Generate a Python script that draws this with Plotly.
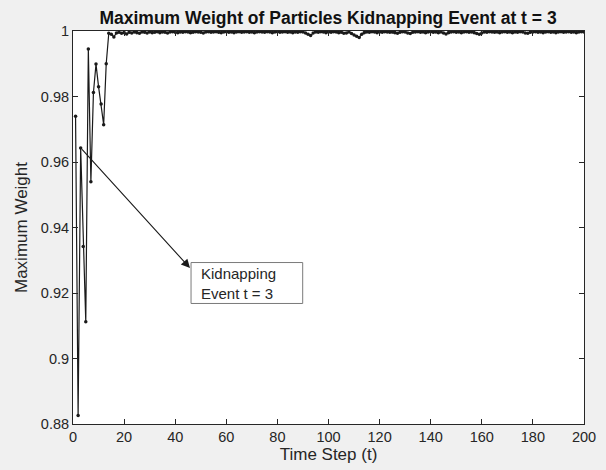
import plotly.graph_objects as go

# ---- data ----
time_steps = list(range(1, 201))
early_weights = [0.9740, 0.8826, 0.9643, 0.9342, 0.9112, 0.9945, 0.9540,
                 0.9812, 0.9899, 0.9830, 0.9777, 0.9714, 0.9900, 0.9993]
late_weights = [
    0.9990, 0.9982, 0.9994, 0.9996, 0.9993, 0.9995, 0.9991, 0.9996, 0.9994, 0.9997,
    0.9995, 0.9993, 0.9997, 0.9996, 0.9994, 0.9997, 0.9995, 0.9996, 0.9998, 0.9995,
    0.9997, 0.9996, 0.9994, 0.9997, 0.9998, 0.9996, 0.9995, 0.9997, 0.9996, 0.9998,
    0.9997, 0.9995, 0.9996, 0.9998, 0.9997, 0.9996, 0.9994, 0.9997, 0.9998, 0.9996,
    0.9997, 0.9998, 0.9996, 0.9995, 0.9997, 0.9998, 0.9996, 0.9997, 0.9995, 0.9997,
    0.9998, 0.9996, 0.9997, 0.9998, 0.9996, 0.9997, 0.9995, 0.9997, 0.9998, 0.9997,
    0.9996, 0.9998, 0.9997, 0.9995, 0.9997, 0.9998, 0.9996, 0.9997, 0.9998, 0.9996,
    0.9997, 0.9995, 0.9997, 0.9996, 0.9998, 0.9997, 0.9994, 0.9990, 0.9986, 0.9994,
    0.9997, 0.9996, 0.9998, 0.9997, 0.9995, 0.9997, 0.9996, 0.9998, 0.9997, 0.9995,
    0.9996, 0.9993, 0.9994, 0.9997, 0.9992, 0.9988, 0.9984, 0.9980, 0.9990, 0.9995,
    0.9997, 0.9996, 0.9998, 0.9997, 0.9995, 0.9997, 0.9996, 0.9998, 0.9997, 0.9996,
    0.9997, 0.9995, 0.9993, 0.9996, 0.9998, 0.9997, 0.9994, 0.9992, 0.9996, 0.9997,
    0.9998, 0.9996, 0.9997, 0.9995, 0.9997, 0.9998, 0.9996, 0.9997, 0.9995, 0.9997,
    0.9994, 0.9991, 0.9995, 0.9997, 0.9998, 0.9996, 0.9997, 0.9995, 0.9997, 0.9998,
    0.9996, 0.9997, 0.9995, 0.9992, 0.9990, 0.9994, 0.9997, 0.9996, 0.9998, 0.9997,
    0.9996, 0.9997, 0.9995, 0.9997, 0.9998, 0.9996, 0.9997, 0.9995, 0.9997, 0.9996,
    0.9998, 0.9997, 0.9994, 0.9993, 0.9996, 0.9997, 0.9998, 0.9996, 0.9997, 0.9995,
    0.9997, 0.9998, 0.9996, 0.9997, 0.9995, 0.9997, 0.9998, 0.9996, 0.9997, 0.9998,
    0.9996, 0.9997, 0.9995, 0.9997, 0.9998, 0.9997,
]
max_weight = early_weights + late_weights

x_ticks = [0, 20, 40, 60, 80, 100, 120, 140, 160, 180, 200]
y_ticks = [0.88, 0.9, 0.92, 0.94, 0.96, 0.98, 1]
y_tick_labels = ["0.88", "0.9", "0.92", "0.94", "0.96", "0.98", "1"]

kidnap_t = 3
title_text = "Maximum Weight of Particles Kidnapping Event at t = 3"
note_text = "Kidnapping<br>Event t = 3"

FONT = "Liberation Sans, Arial, sans-serif"
TXT = "#262626"

fig = go.Figure()
fig.add_trace(go.Scatter(
    x=time_steps, y=max_weight, mode="lines+markers",
    line=dict(color="#1a1a1a", width=1.2),
    marker=dict(color="#1a1a1a", size=3.5),
    showlegend=False, cliponaxis=True,
))

kid_y = max_weight[time_steps.index(kidnap_t)]

# arrow from kidnapping point to text box
fig.add_annotation(
    x=45.8, y=0.9276, ax=kidnap_t, ay=kid_y, axref="x", ayref="y",
    xref="x", yref="y", text="", showarrow=True,
    arrowhead=2, arrowsize=1.6, arrowwidth=1.1, arrowcolor="#1a1a1a",
)
# text box
fig.add_shape(type="rect", xref="x", yref="y",
              x0=46.2, x1=89.9, y0=0.9168, y1=0.9293,
              line=dict(color="#7a7a7a", width=1), fillcolor="white")
fig.add_annotation(
    x=49.3, y=0.92305, xref="x", yref="y", text=note_text, showarrow=False,
    xanchor="left", yanchor="middle", align="left",
    font=dict(family=FONT, size=15, color=TXT),
)

axis_common = dict(
    showgrid=False, zeroline=False, showline=True, linecolor="#262626",
    linewidth=1, mirror="ticks", ticks="inside", ticklen=5,
    tickcolor="#262626", tickfont=dict(family=FONT, size=14.5, color=TXT),
)

fig.update_xaxes(range=[0, 200], tickvals=x_ticks,
                 title=dict(text="Time Step (t)", standoff=3,
                            font=dict(family=FONT, size=17, color=TXT)),
                 **axis_common)
fig.update_yaxes(range=[0.88, 1], tickvals=y_ticks, ticktext=y_tick_labels,
                 title=dict(text="Maximum Weight", standoff=8,
                            font=dict(family=FONT, size=17, color=TXT)),
                 **axis_common)

fig.update_layout(
    width=606, height=470,
    margin=dict(l=73, r=22, t=31, b=46, autoexpand=False),
    paper_bgcolor="#f0f0f0", plot_bgcolor="white",
    title=dict(text="<b>" + title_text + "</b>", x=0.5413, xanchor="center",
               y=0.9617, yanchor="middle",
               font=dict(family=FONT, size=17.5, color="#111111")),
)

fig.write_html(
    "out.html",
    config={"displayModeBar": False},
    post_script="document.body.style.margin='0';"
                "document.body.style.background='#f0f0f0';",
)
